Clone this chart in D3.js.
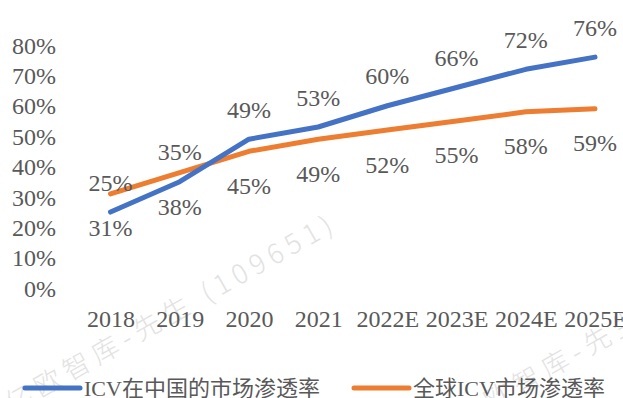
<!DOCTYPE html>
<html>
<head>
<meta charset="utf-8">
<script src="https://cdn.jsdelivr.net/npm/d3@7/dist/d3.min.js"></script>
<style>
  html, body { margin: 0; padding: 0; background: #fff; }
  svg { display: block; }
</style>
</head>
<body>
<svg id="chart" width="623" height="398"></svg>
<script>
// Categories and series (penetration rate, %)
const years = ["2018", "2019", "2020", "2021", "2022E", "2023E", "2024E", "2025E"];
const chinaICV = [25, 35, 49, 53, 60, 66, 72, 76];
const globalICV = [31, 38, 45, 49, 52, 55, 58, 59];
const yTicks = [0, 10, 20, 30, 40, 50, 60, 70, 80];
const seriesNames = ["ICV在中国的市场渗透率", "全球ICV市场渗透率"];
const colors = ["#4472C4", "#ED7D31"];
const watermark = "亿欧智库-先生 (109651)";

const FONT = '"Liberation Serif", "Noto Sans CJK SC", serif';
const TEXT_COLOR = "#595959";
const styleLabel = (sel, size) => sel
  .style("font-family", FONT)
  .style("font-size", size + "px")
  .style("fill", TEXT_COLOR);

const svg = d3.select("#chart");

// Faint background watermark, tiled
const wm = svg.append("g");
[[12, 414], [462, 428]].forEach(([x, y]) => {
  wm.append("text")
    .attr("transform", `translate(${x},${y}) rotate(-29.5)`)
    .style("font-family", '"Noto Sans CJK SC", sans-serif')
    .style("font-size", "27px")
    .style("font-weight", 300)
    .style("letter-spacing", "6px")
    .style("fill", "#e2e2e2")
    .text(watermark);
});

const x = d3.scalePoint().domain(years).range([110.5, 595]);
const y = d3.scaleLinear().domain([0, 80]).range([288, 45]);

// Y axis: labels only
const yAxis = svg.append("g")
  .attr("transform", "translate(56,0)")
  .call(d3.axisLeft(y).tickValues(yTicks).tickSize(0).tickPadding(0).tickFormat(d => d + "%"));
yAxis.select(".domain").remove();
styleLabel(yAxis.selectAll("text"), 24).attr("dy", "0.34em");

// X axis: labels only
const xAxis = svg.append("g")
  .attr("transform", "translate(0,288)")
  .call(d3.axisBottom(x).tickSize(0).tickPadding(22));
xAxis.select(".domain").remove();
styleLabel(xAxis.selectAll("text"), 24);

// Lines (global drawn first, China on top)
const line = d3.line().x((d, i) => x(years[i])).y(d => y(d));
[[globalICV, colors[1]], [chinaICV, colors[0]]].forEach(([vals, c]) => {
  svg.append("path")
    .datum(vals)
    .attr("d", line)
    .attr("fill", "none")
    .attr("stroke", c)
    .attr("stroke-width", 5)
    .attr("stroke-linecap", "round")
    .attr("stroke-linejoin", "round");
});

// Data labels: China above, global below
styleLabel(svg.append("g").selectAll("text").data(chinaICV).join("text"), 24)
  .attr("text-anchor", "middle")
  .attr("x", (d, i) => x(years[i]))
  .attr("y", d => y(d) - 21.5)
  .text(d => d + "%");
styleLabel(svg.append("g").selectAll("text").data(globalICV).join("text"), 24)
  .attr("text-anchor", "middle")
  .attr("x", (d, i) => x(years[i]))
  .attr("y", d => y(d) + 42.5)
  .text(d => d + "%");

// Legend
const legendPos = [25, 354];
seriesNames.forEach((name, i) => {
  const g = svg.append("g").attr("transform", `translate(${legendPos[i]},388)`);
  g.append("line")
    .attr("x1", 0).attr("x2", 55).attr("y1", 0).attr("y2", 0)
    .attr("stroke", colors[i]).attr("stroke-width", 5).attr("stroke-linecap", "round");
  styleLabel(g.append("text"), 22)
    .attr("x", 59).attr("y", 7.5)
    .text(name);
});
</script>
</body>
</html>
